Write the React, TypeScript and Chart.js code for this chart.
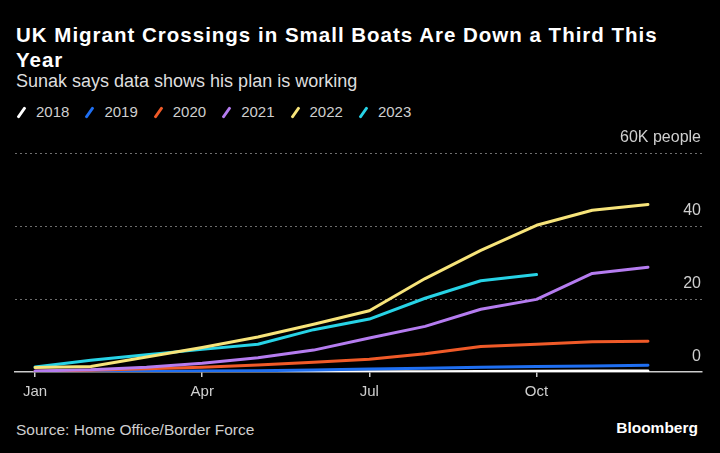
import React, { useEffect, useRef } from "react";
import { Chart, registerables } from "chart.js";

Chart.register(...registerables);

const monthLabels = ["Jan", "Feb", "Mar", "Apr", "May", "Jun", "Jul", "Aug", "Sep", "Oct", "Nov", "Dec"];
const tickMonths = [0, 3, 6, 9];
const yTicks = [0, 20, 40, 60];

const seriesNames = ["2018", "2019", "2020", "2021", "2022", "2023"];
const seriesColors = ["#ffffff", "#1f6ff2", "#f05a28", "#b57cf0", "#f7e47a", "#27d3e6"];

const y2018 = [0.0, 0.0, 0.0, 0.0, 0.0, 0.02, 0.05, 0.08, 0.12, 0.18, 0.24, 0.3];
const y2019 = [0.05, 0.1, 0.15, 0.25, 0.35, 0.55, 0.85, 1.05, 1.3, 1.5, 1.65, 1.84];
const y2020 = [0.2, 0.5, 0.9, 1.3, 1.9, 2.7, 3.5, 5.0, 7.0, 7.6, 8.3, 8.4];
const y2021 = [0.3, 0.6, 1.3, 2.4, 3.9, 6.0, 9.3, 12.5, 17.2, 19.9, 27.0, 28.7];
const y2022 = [1.2, 1.5, 4.1, 6.7, 9.6, 13.1, 16.8, 25.6, 33.3, 40.2, 44.3, 45.9];
const y2023 = [1.4, 3.2, 4.7, 6.2, 7.6, 11.6, 14.5, 20.2, 25.0, 26.7];

const seriesValues = [y2018, y2019, y2020, y2021, y2022, y2023];
const drawOrder = [5, 4, 3, 2, 0, 1];

const FONT = "'Liberation Sans', Arial, sans-serif";

const yLabelPlugin = {
  id: "yLabels",
  afterDraw(chart: any) {
    const { ctx, chartArea, scales } = chart;
    const y = scales.y;
    ctx.save();
    ctx.font = `16px ${FONT}`;
    ctx.fillStyle = "#cfcfcf";
    ctx.textAlign = "right";
    ctx.textBaseline = "middle";
    yTicks.forEach((v) => {
      const py = y.getPixelForValue(v);
      const label = v === 60 ? "60K people" : String(v);
      ctx.fillText(label, chartArea.right - 1, py - 15);
    });
    ctx.restore();
  },
};

function LineChart() {
  const ref = useRef<HTMLCanvasElement | null>(null);
  useEffect(() => {
    if (!ref.current) return;
    const chart = new Chart(ref.current, {
      type: "line",
      data: {
        datasets: seriesNames.map((name, i) => ({
          label: name,
          data: seriesValues[i].map((v, m) => ({ x: m, y: v })),
          borderColor: seriesColors[i],
          backgroundColor: seriesColors[i],
          borderWidth: 3,
          pointRadius: 0,
          tension: 0,
          order: drawOrder[i],
          borderCapStyle: "round",
          borderJoinStyle: "round",
        })),
      },
      options: {
        animation: false,
        responsive: false,
        maintainAspectRatio: false,
        layout: { padding: { left: 15, right: 18, top: 28, bottom: 0 } },
        plugins: { legend: { display: false }, tooltip: { enabled: false }, title: { display: false } },
        scales: {
          x: {
            type: "linear",
            min: -0.36,
            max: 11.97,
            afterBuildTicks: (scale: any) => {
              scale.ticks = tickMonths.map((v) => ({ value: v }));
            },
            ticks: {
              autoSkip: false,
              maxRotation: 0,
              padding: 6,
              color: "#cfcfcf",
              font: { family: FONT, size: 15 },
              callback: (v: any) => monthLabels[Number(v)] ?? "",
            },
            grid: { display: true, drawOnChartArea: false, drawTicks: true, tickLength: 5, color: "#cccccc", lineWidth: 1.5 },
            border: { display: true, color: "#cccccc", width: 1.5 },
          },
          y: {
            min: 0,
            max: 60,
            position: "right",
            afterBuildTicks: (scale: any) => {
              scale.ticks = yTicks.map((v) => ({ value: v }));
            },
            ticks: { display: false },
            grid: {
              drawTicks: false,
              color: (c: any) => (c.tick && c.tick.value === 0 ? "rgba(0,0,0,0)" : "#6e6e6e"),
              lineWidth: 1,
            },
            border: { display: false, dash: [2, 3] },
          },
        },
      },
      plugins: [yLabelPlugin],
    } as any);
    return () => chart.destroy();
  }, []);
  return <canvas ref={ref} width={720} height={282} style={{ position: "absolute", left: 0, top: 125, width: 720, height: 282 }} />;
}

export default function App() {
  useEffect(() => {
    document.body.style.margin = "0";
    document.body.style.background = "#000";
  }, []);
  return (
    <div style={{ position: "relative", width: 720, height: 453, background: "#000", fontFamily: FONT, overflow: "hidden" }}>
      <div style={{ position: "absolute", left: 16, top: 22, color: "#fff", fontWeight: 700, fontSize: 20.5, letterSpacing: "1px", lineHeight: "25px", whiteSpace: "nowrap" }}>
        UK Migrant Crossings in Small Boats Are Down a Third This
        <br />
        Year
      </div>
      <div style={{ position: "absolute", left: 16, top: 71, color: "#dedede", fontSize: 18, lineHeight: "20px" }}>
        Sunak says data shows his plan is working
      </div>
      <div style={{ position: "absolute", left: 16, top: 102, display: "flex", alignItems: "center", height: 20 }}>
        {seriesNames.map((name, i) => (
          <div key={name} style={{ display: "flex", alignItems: "center", marginRight: 15 }}>
            <span
              style={{
                display: "inline-block",
                width: 3,
                height: 13,
                background: seriesColors[i],
                transform: "rotate(35deg)",
                marginLeft: 4,
                marginRight: 13,
                borderRadius: 1,
              }}
            />
            <span style={{ color: "#cfcfcf", fontSize: 15, lineHeight: "20px" }}>{name}</span>
          </div>
        ))}
      </div>
      <LineChart />
      <div style={{ position: "absolute", left: 16, top: 420, color: "#cfcfcf", fontSize: 15.5, lineHeight: "20px" }}>
        Source: Home Office/Border Force
      </div>
      <div style={{ position: "absolute", right: 22, top: 418, color: "#fff", fontWeight: 700, fontSize: 15.5, lineHeight: "20px" }}>
        Bloomberg
      </div>
    </div>
  );
}
